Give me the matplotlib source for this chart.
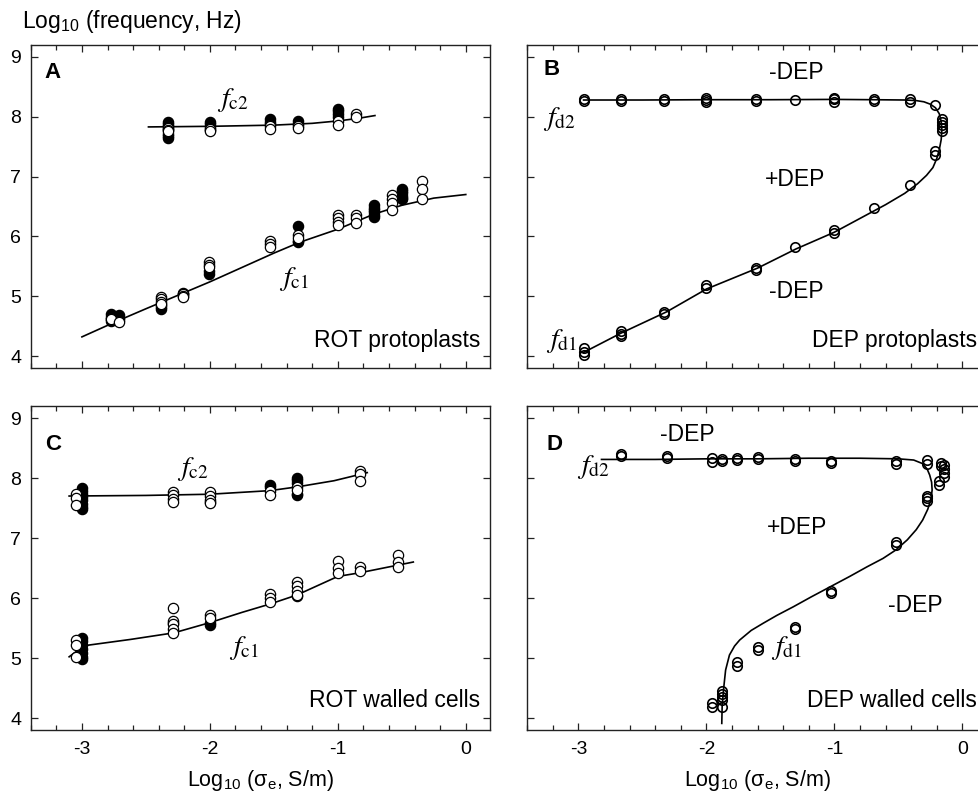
import matplotlib
matplotlib.use('Agg')
import matplotlib.pyplot as plt
from matplotlib.ticker import MultipleLocator, NullFormatter

plt.rcParams['font.family'] = ['Liberation Sans', 'DejaVu Sans']
plt.rcParams['mathtext.fontset'] = 'custom'
plt.rcParams['mathtext.rm'] = 'Liberation Sans'
plt.rcParams['mathtext.it'] = 'Liberation Sans:italic'
plt.rcParams['mathtext.bf'] = 'Liberation Sans:bold'
plt.rcParams['axes.unicode_minus'] = False

# ---- A: ROT protoplasts (x = log10 conductivity, y = log10 frequency)
a_fc2_x = [-2.33, -2.0, -1.53, -1.31, -1.0, -0.86]
a_fc2_filled = [[7.92, 7.88, 7.85, 7.8, 7.72, 7.68, 7.65], [7.92, 7.88, 7.83, 7.78],
                [7.97, 7.92, 7.88], [7.93, 7.88], [8.13, 8.1, 8.05, 8.0], []]
a_fc2_open = [[7.82, 7.78, 7.76], [7.8, 7.76], [7.84, 7.8], [7.85, 7.82],
              [7.93, 7.87], [8.04, 7.99]]
a_fc2_curve_x = [-2.48, -2.0, -1.5, -1.2, -1.0, -0.85, -0.71]
a_fc2_curve_y = [7.83, 7.84, 7.86, 7.89, 7.93, 7.97, 8.02]

a_fc1_x = [-2.77, -2.71, -2.38, -2.21, -2.01, -1.53, -1.31, -1.0, -0.86, -0.72, -0.58, -0.5, -0.34]
a_fc1_filled = [[4.7, 4.66, 4.62, 4.59], [4.68, 4.64, 4.6], [4.85, 4.82, 4.79], [5.06, 5.04],
                [5.42, 5.37], [], [6.18, 5.92, 5.9], [], [],
                [6.52, 6.48, 6.44, 6.4, 6.36, 6.33], [], [6.8, 6.76, 6.72, 6.68, 6.65, 6.62], []]
a_fc1_open = [[4.62], [4.57], [4.99, 4.95, 4.9, 4.87], [5.03, 5.0, 4.98], [5.58, 5.53, 5.48],
              [5.92, 5.88, 5.82], [6.02, 5.97], [6.36, 6.3, 6.24, 6.19], [6.35, 6.3, 6.22],
              [], [6.7, 6.62, 6.55, 6.44], [], [6.92, 6.8, 6.62]]
a_fc1_curve_x = [-3.0, -2.74, -2.5, -2.2, -2.0, -1.75, -1.5, -1.3, -1.0, -0.72, -0.5, -0.25, 0.0]
a_fc1_curve_y = [4.32, 4.57, 4.79, 5.06, 5.24, 5.48, 5.72, 5.9, 6.12, 6.37, 6.52, 6.64, 6.70]

# ---- B: DEP protoplasts
b_x = [-2.96, -2.67, -2.33, -2.0, -1.61, -1.31, -1.0, -0.69, -0.41, -0.21, -0.16]
b_y = [[8.3, 8.27, 4.14, 4.07, 4.02], [8.3, 8.27, 4.42, 4.37, 4.33], [8.3, 8.26, 4.74, 4.71],
       [8.31, 8.28, 8.25, 5.18, 5.13], [8.29, 8.26, 5.47, 5.43], [8.28, 5.82],
       [8.32, 8.29, 8.25, 6.1, 6.06], [8.3, 8.26, 6.47], [8.29, 8.25, 6.86],
       [8.2, 7.42, 7.36], [7.96, 7.91, 7.86, 7.81, 7.76]]
b_curve_x = [-2.96, -2.67, -2.31, -2.0, -1.6, -1.3, -1.0, -0.8, -0.6, -0.45, -0.35, -0.28,
             -0.23, -0.2, -0.18, -0.165, -0.16, -0.165, -0.18, -0.21, -0.25, -0.3, -0.36,
             -0.45, -0.7, -1.0, -1.5, -2.0, -2.5, -2.96]
b_curve_y = [4.06, 4.38, 4.74, 5.12, 5.47, 5.79, 6.07, 6.3, 6.53, 6.72, 6.88, 7.02,
             7.15, 7.3, 7.45, 7.62, 7.78, 7.92, 8.05, 8.15, 8.21, 8.25, 8.27,
             8.28, 8.285, 8.29, 8.285, 8.285, 8.28, 8.28]

# ---- C: ROT walled cells
c_fc2_x = [-3.045, -3.0, -2.29, -2.0, -1.53, -1.32, -0.83]
c_fc2_filled = [[], [7.83, 7.79, 7.74, 7.69, 7.63, 7.57, 7.52, 7.48], [], [7.6],
                [7.89, 7.85], [8.0, 7.96, 7.92, 7.74, 7.72], []]
c_fc2_open = [[7.74, 7.66, 7.55], [], [7.77, 7.71, 7.65, 7.6], [7.76, 7.7, 7.64, 7.58],
              [7.78, 7.72], [7.85, 7.8], [8.12, 8.06, 7.95]]
c_fc2_curve_x = [-3.1, -2.5, -2.0, -1.53, -1.31, -1.03, -0.77]
c_fc2_curve_y = [7.70, 7.71, 7.73, 7.79, 7.855, 7.955, 8.09]

c_fc1_x = [-3.045, -3.0, -2.29, -2.0, -1.53, -1.32, -1.0, -0.83, -0.53]
c_fc1_filled = [[], [5.33, 5.28, 5.22, 5.15, 5.08, 5.02, 4.98], [5.58], [5.58, 5.55],
                [], [6.03], [], [], []]
c_fc1_open = [[5.3, 5.22, 5.02], [], [5.84, 5.62, 5.56, 5.48, 5.42], [5.72, 5.66],
              [6.06, 6.0, 5.94], [6.26, 6.2, 6.12, 6.05], [6.62, 6.5, 6.42],
              [6.51, 6.45], [6.72, 6.6, 6.52]]
c_fc1_curve_x = [-3.1, -3.05, -3.0, -2.62, -2.28, -2.0, -1.75, -1.53, -1.32, -1.0, -0.83, -0.41]
c_fc1_curve_y = [5.02, 5.1, 5.2, 5.31, 5.42, 5.59, 5.76, 5.9, 6.05, 6.36, 6.42, 6.6]

# ---- D: DEP walled cells
d_x = [-2.67, -2.31, -1.96, -1.88, -1.76, -1.6, -1.31, -1.03, -0.52, -0.275, -0.18, -0.17, -0.14]
d_y = [[8.4, 8.36], [8.37, 8.34], [8.33, 8.27, 4.25, 4.18], [8.31, 8.28, 4.45, 4.4, 4.35, 4.3, 4.19],
       [8.34, 8.3, 4.93, 4.86], [8.35, 8.31, 5.18, 5.14], [8.31, 8.28, 5.52, 5.49],
       [8.29, 8.25, 6.11, 6.08], [8.28, 8.24, 6.93, 6.89], [8.3, 8.23, 7.7, 7.66, 7.62],
       [7.95, 7.88], [8.25, 8.2], [8.22, 8.15, 8.08, 8.02]]
d_curve_x = [-1.88, -1.877, -1.865, -1.85, -1.82, -1.78, -1.74, -1.65, -1.556, -1.45, -1.32,
             -1.18, -1.03, -0.88, -0.745, -0.62, -0.52, -0.43, -0.36, -0.31, -0.27, -0.245,
             -0.236, -0.24, -0.255, -0.275, -0.31, -0.38, -0.5, -0.8, -1.2, -1.6, -2.0, -2.4, -2.82]
d_curve_y = [3.91, 4.2, 4.5, 4.8, 5.05, 5.2, 5.3, 5.46, 5.58, 5.71, 5.855,
             6.02, 6.19, 6.36, 6.52, 6.66, 6.8, 6.97, 7.14, 7.3, 7.48, 7.65,
             7.8, 7.93, 8.05, 8.15, 8.24, 8.3, 8.32, 8.33, 8.33, 8.32, 8.32, 8.31, 8.31]

TXT = 16.5


def flatten(xs, groups):
    px = [x for x, ys in zip(xs, groups) for _ in ys]
    py = [y for ys in groups for y in ys]
    return px, py


def circles(ax, xs, groups, face, ms=7.4, mew=0.9):
    px, py = flatten(xs, groups)
    ax.plot(px, py, 'o', ls='none', ms=ms, mfc=face, mec='black', mew=mew, zorder=3)


def setup(ax, ylabels, xlabels):
    ax.set_xlim(-3.4, 0.19)
    ax.set_ylim(3.8, 9.2)
    ax.xaxis.set_major_locator(MultipleLocator(1))
    ax.xaxis.set_minor_locator(MultipleLocator(0.2))
    ax.yaxis.set_major_locator(MultipleLocator(1))
    ax.tick_params(which='both', direction='in', top=True, right=True, width=0.9,
                   labelsize=14, color='#222222')
    ax.tick_params(which='major', length=5)
    ax.tick_params(which='minor', length=3.5)
    ax.tick_params(axis='y', pad=7)
    ax.tick_params(axis='x', pad=8)
    for s in ax.spines.values():
        s.set_linewidth(1.0)
        s.set_color('#222222')
    if not ylabels:
        ax.yaxis.set_major_formatter(NullFormatter())
    if not xlabels:
        ax.xaxis.set_major_formatter(NullFormatter())


def flabel(ax, x, y, s):
    ax.text(x, y, s, fontsize=20, ha='center', va='center', math_fontfamily='stix')


fig = plt.figure(figsize=(9.79, 7.96), dpi=100)
axA = fig.add_axes([0.0314, 0.5377, 0.4692, 0.4058])
axB = fig.add_axes([0.5386, 0.5377, 0.4692, 0.4058])
axC = fig.add_axes([0.0314, 0.0829, 0.4692, 0.4070])
axD = fig.add_axes([0.5386, 0.0829, 0.4692, 0.4070])

setup(axA, True, False)
setup(axB, False, False)
setup(axC, True, True)
setup(axD, False, True)

lw = 1.2

# A
axA.plot(a_fc2_curve_x, a_fc2_curve_y, color='black', lw=lw)
axA.plot(a_fc1_curve_x, a_fc1_curve_y, color='black', lw=lw)
circles(axA, a_fc2_x, a_fc2_filled, 'black')
circles(axA, a_fc2_x, a_fc2_open, 'white')
circles(axA, a_fc1_x, a_fc1_filled, 'black')
circles(axA, a_fc1_x, a_fc1_open, 'white')
axA.text(-3.29, 8.92, 'A', fontsize=16, fontweight='bold', ha='left', va='top')
flabel(axA, -1.82, 8.28, r'$f_{\rm c2}$')
flabel(axA, -1.34, 5.29, r'$f_{\rm c1}$')
axA.text(0.978, 0.065, 'ROT protoplasts', transform=axA.transAxes, fontsize=TXT,
         ha='right', va='baseline')

# B
axB.plot(b_curve_x, b_curve_y, color='black', lw=lw)
circles(axB, b_x, b_y, 'none', ms=6.8, mew=1.2)
axB.text(-3.27, 8.96, 'B', fontsize=16, fontweight='bold', ha='left', va='top')
flabel(axB, -3.15, 7.97, r'$f_{\rm d2}$')
flabel(axB, -3.13, 4.25, r'$f_{\rm d1}$')
for tx, ty, s in [(-1.3, 8.74, '-DEP'), (-1.31, 6.95, '+DEP'), (-1.3, 5.075, '-DEP')]:
    axB.text(tx, ty, s, fontsize=TXT, ha='center', va='center')
axB.text(0.979, 0.065, 'DEP protoplasts', transform=axB.transAxes, fontsize=TXT,
         ha='right', va='baseline')

# C
axC.plot(c_fc2_curve_x, c_fc2_curve_y, color='black', lw=lw)
axC.plot(c_fc1_curve_x, c_fc1_curve_y, color='black', lw=lw)
circles(axC, c_fc2_x, c_fc2_filled, 'black')
circles(axC, c_fc2_x, c_fc2_open, 'white')
circles(axC, c_fc1_x, c_fc1_filled, 'black')
circles(axC, c_fc1_x, c_fc1_open, 'white')
axC.text(-3.29, 8.74, 'C', fontsize=16, fontweight='bold', ha='left', va='top')
flabel(axC, -2.13, 8.15, r'$f_{\rm c2}$')
flabel(axC, -1.73, 5.16, r'$f_{\rm c1}$')
axC.text(0.978, 0.07, 'ROT walled cells', transform=axC.transAxes, fontsize=TXT,
         ha='right', va='baseline')

# D
axD.plot(d_curve_x, d_curve_y, color='black', lw=lw)
circles(axD, d_x, d_y, 'none', ms=6.8, mew=1.2)
axD.text(-3.25, 8.74, 'D', fontsize=16, fontweight='bold', ha='left', va='top')
flabel(axD, -2.88, 8.18, r'$f_{\rm d2}$')
flabel(axD, -1.37, 5.17, r'$f_{\rm d1}$')
for tx, ty, s in [(-2.15, 8.72, '-DEP'), (-1.29, 7.17, '+DEP'), (-0.37, 5.88, '-DEP')]:
    axD.text(tx, ty, s, fontsize=TXT, ha='center', va='center')
axD.text(0.979, 0.07, 'DEP walled cells', transform=axD.transAxes, fontsize=TXT,
         ha='right', va='baseline')

xlab = r'Log$_{10}$ (σ$_{\rm e}$, S/m)'
axC.set_xlabel(xlab, fontsize=15.5, labelpad=7)
axD.set_xlabel(xlab, fontsize=15.5, labelpad=7)
fig.text(0.0225, 0.973, r'Log$_{10}$ (frequency, Hz)', fontsize=16.5, ha='left', va='center')

fig.savefig('out.png', dpi=100)
